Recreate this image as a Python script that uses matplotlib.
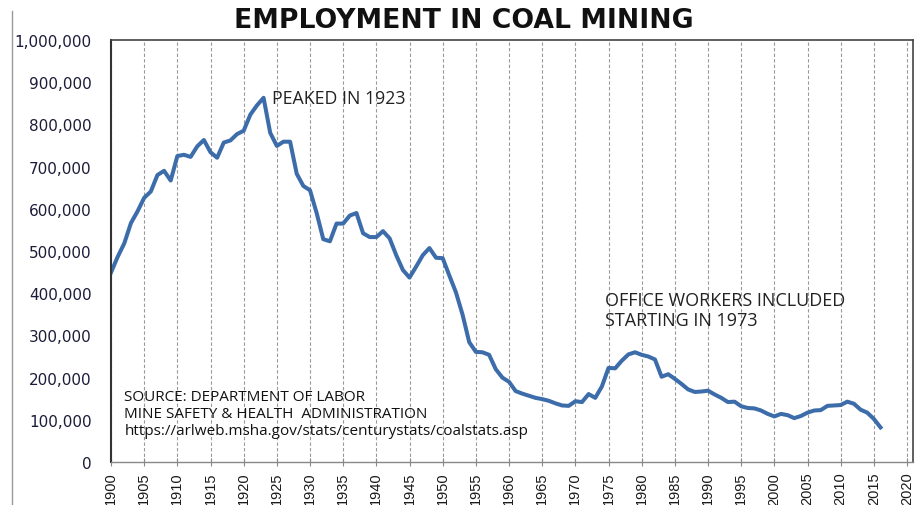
import matplotlib
matplotlib.use("Agg")
import matplotlib.pyplot as plt
from matplotlib.lines import Line2D

years = list(range(1900, 2017))
employment = [
    449, 486, 518, 566, 594, 626, 641, 680, 690, 667,
    725, 728, 723, 748, 763, 734, 721, 757, 762, 777,
    785, 823, 845, 863, 780, 749, 759, 759, 683, 654,
    644, 590, 528, 523, 565, 565, 584, 590, 542, 533,
    533, 547, 530, 490, 455, 437, 463, 490, 507, 484,
    483, 442, 402, 349, 284, 261, 260, 254, 220, 200,
    190, 168, 162, 157, 152, 149, 145, 139, 134, 133,
    144, 142, 161, 152, 179, 223, 222, 240, 255, 260,
    254, 250, 243, 202, 208, 197, 185, 172, 166, 167,
    169, 160, 152, 142, 143, 132, 128, 127, 122, 114,
    108, 114, 111, 104, 109, 117, 122, 123, 133, 134,
    135, 143, 138, 124, 117, 102, 82,
]
employment = [v * 1000 for v in employment]
xticks = list(range(1900, 2021, 5))
yticks = list(range(0, 1000001, 100000))
ytick_labels = ["0"] + [f"{v:,}" for v in yticks[1:]]

title = "EMPLOYMENT IN COAL MINING"
peak_note = "PEAKED IN 1923"
office_note = "OFFICE WORKERS INCLUDED\nSTARTING IN 1973"
source_note = ("SOURCE: DEPARTMENT OF LABOR\n"
               "MINE SAFETY & HEALTH  ADMINISTRATION\n"
               "https://arlweb.msha.gov/stats/centurystats/coalstats.asp")

W, H = 917, 506
fig = plt.figure(figsize=(W / 100, H / 100), dpi=100)
left, right, top, bottom = 111, 913, 41, 463
ax = fig.add_axes([left / W, 1 - bottom / H, (right - left) / W, (bottom - top) / H])

ax.plot(years, employment, color="#3C6DAA", lw=2.9, solid_joinstyle="round")
ax.set_xlim(1900, 2020.9)
ax.set_ylim(0, 1000000)
ax.set_xticks(xticks)
ax.set_yticks(yticks)
ax.set_yticklabels(ytick_labels)
ax.tick_params(axis="y", length=0, pad=14, labelsize=11, labelcolor="#1c1c3a")
ax.tick_params(axis="x", direction="inout", length=6, color="#888888", pad=4,
               labelsize=10.5, labelcolor="#1a1a1a", labelrotation=90)
for lab in ax.get_xticklabels():
    lab.set_family("Liberation Sans")
for lab in ax.get_yticklabels():
    lab.set_family("DejaVu Sans")
for x in xticks:
    ax.axvline(x, color="#999999", lw=0.8, ls=(0, (3, 2)), zorder=0)

for s in ["top", "right"]:
    ax.spines[s].set_color("#444444")
    ax.spines[s].set_linewidth(1.2)
ax.spines["left"].set_color("#333333")
ax.spines["left"].set_linewidth(1.5)
ax.spines["bottom"].set_color("#888888")
ax.spines["bottom"].set_linewidth(1.0)

fig.text(464 / W, 1 - 21 / H, title, ha="center", va="center", fontsize=19.2,
         fontweight="bold", family="DejaVu Sans", color="#111111")
ax.text(1924.2, 862000, peak_note, ha="left", va="center", fontsize=12.8,
        family="Open Sans", color="#222222")
ax.text(1974.5, 406000, office_note, ha="left", va="top", fontsize=13,
        family="Open Sans", color="#222222", linespacing=1.2)
ax.text(1902, 172000, source_note, ha="left", va="top", fontsize=11,
        family="Open Sans", color="#111111", linespacing=1.15)

fig.add_artist(Line2D([12 / W, 12 / W], [0, 1 - 12 / H], transform=fig.transFigure,
                      color="#999999", lw=1.0))

fig.savefig("out.png", dpi=100)
